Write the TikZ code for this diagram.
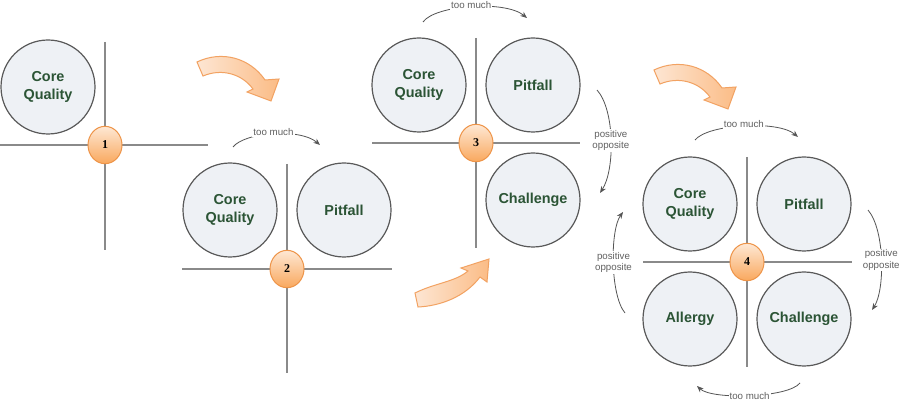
\documentclass[tikz,border=0pt]{standalone}
\usepackage{fontspec}
\setmainfont{Liberation Sans}
\newfontfamily\numfont{Liberation Serif}
\usetikzlibrary{arrows.meta,shapes.geometric}
\definecolor{qgreen}{HTML}{2B5435}
\definecolor{circfill}{HTML}{EEF1F5}
\definecolor{circedge}{HTML}{5A5A5A}
\definecolor{axisgray}{HTML}{8A8A8A}
\definecolor{relgray}{HTML}{555555}
\definecolor{labelgray}{HTML}{606060}
\definecolor{badgeedge}{HTML}{EE9448}
\definecolor{badgetop}{HTML}{FEE8D4}
\definecolor{badgebot}{HTML}{F9A85E}
\definecolor{arrowedge}{HTML}{F2A262}
\definecolor{arrowlight}{HTML}{FDE6D3}
\definecolor{arrowdark}{HTML}{FBBC86}
\begin{document}
\begin{tikzpicture}[x=0.75pt,y=-0.75pt,
  quad/.style={circle,draw=circedge,line width=0.9pt,fill=circfill,minimum size=70.5pt,inner sep=0pt,align=center,font=\fontsize{10.8}{13.5}\selectfont\bfseries,text=qgreen},
  badge/.style={ellipse,draw=badgeedge,line width=0.75pt,top color=badgetop,bottom color=badgebot,minimum width=25.5pt,minimum height=28pt,inner sep=0pt,font=\numfont\fontsize{9}{9}\selectfont\bfseries},
  axis/.style={draw=axisgray,line width=1.5pt},
  relarrow/.style={draw=relgray,line width=0.6pt,-{Stealth[length=5pt,width=4pt]}},
  rellabel/.style={fill=white,inner sep=0.8pt,text=labelgray,font=\fontsize{7.3}{8.8}\selectfont,align=center},
  bigarrow/.style={draw=arrowedge,line width=0.75pt,left color=arrowlight,right color=arrowdark}]
\useasboundingbox (0,0) rectangle (900,420);
\fill[white] (0,0) rectangle (900,420);

% ---------- axes coordinates ----------
\coordinate (v1t) at (105,42);  \coordinate (v1b) at (105,250);
\coordinate (h1l) at (0,145);   \coordinate (h1r) at (208,145);
\coordinate (v2t) at (287,164); \coordinate (v2b) at (287,373);
\coordinate (h2l) at (182,269); \coordinate (h2r) at (392,269);
\coordinate (v3t) at (476,38);  \coordinate (v3b) at (476,248);
\coordinate (h3l) at (372,143); \coordinate (h3r) at (580,143);
\coordinate (v4t) at (747,157); \coordinate (v4b) at (747,367);
\coordinate (h4l) at (643,262); \coordinate (h4r) at (852,262);

\draw[axis] (v1t) -- (v1b); \draw[axis] (h1l) -- (h1r);
\draw[axis] (v2t) -- (v2b); \draw[axis] (h2l) -- (h2r);
\draw[axis] (v3t) -- (v3b); \draw[axis] (h3l) -- (h3r);
\draw[axis] (v4t) -- (v4b); \draw[axis] (h4l) -- (h4r);

% ---------- quadrant circles ----------
\node[quad] (cq1) at (48,87) {Core\\Quality};

\node[quad] (cq2) at (230,210) {Core\\Quality};
\node[quad] (pf2) at (344,210) {Pitfall};

\node[quad] (cq3) at (419,85) {Core\\Quality};
\node[quad] (pf3) at (533,85) {Pitfall};
\node[quad] (ch3) at (533,200) {Challenge};

\node[quad] (cq4) at (690,204) {Core\\Quality};
\node[quad] (pf4) at (804,204) {Pitfall};
\node[quad] (al4) at (690,319) {Allergy};
\node[quad] (ch4) at (804,319) {Challenge};

% ---------- badges ----------
\node[badge] (b1) at (105,145) {1};
\node[badge] (b2) at (287,269) {2};
\node[badge] (b3) at (476,143) {3};
\node[badge] (b4) at (747,262) {4};

% ---------- relation arrows ----------
\coordinate (t2a) at (233,147); \coordinate (t2b) at (320,145);
\draw[relarrow] (t2a) .. controls (245,132) and (300,128) .. (t2b)
  node[pos=0.5,rellabel,yshift=1.5pt] {too much};

\coordinate (t3a) at (423,22); \coordinate (t3b) at (527,18);
\draw[relarrow] (t3a) .. controls (435,5) and (505,0) .. (t3b)
  node[pos=0.5,rellabel,yshift=1.5pt] {too much};

\coordinate (p3a) at (597,90); \coordinate (p3b) at (600,193);
\draw[relarrow] (p3a) .. controls (615,110) and (615,170) .. (p3b)
  node[pos=0.5,rellabel] {positive\\opposite};

\coordinate (t4a) at (695,140); \coordinate (t4b) at (798,137);
\draw[relarrow] (t4a) .. controls (708,124) and (778,120) .. (t4b)
  node[pos=0.5,rellabel,yshift=1.5pt] {too much};

\coordinate (u4a) at (800,383); \coordinate (u4b) at (697,386);
\draw[relarrow] (u4a) .. controls (788,398) and (712,400) .. (u4b)
  node[pos=0.5,rellabel,yshift=-0.5pt] {too much};

\coordinate (r4a) at (868,210); \coordinate (r4b) at (872,310);
\draw[relarrow] (r4a) .. controls (885,230) and (885,290) .. (r4b)
  node[pos=0.5,rellabel] {positive\\opposite};

\coordinate (l4a) at (625,313); \coordinate (l4b) at (623,212);
\draw[relarrow] (l4a) .. controls (610,295) and (610,230) .. (l4b)
  node[pos=0.5,rellabel] {positive\\opposite};

% ---------- big orange arrows ----------
\path[bigarrow] (197,62) .. controls (222,50) and (250,58) .. (265,80)
  -- (279,79) -- (271,101) -- (247,92) -- (253,89)
  .. controls (242,74) and (222,68) .. (203,76) -- cycle;

\path[bigarrow] (415,293) .. controls (435,283) and (455,282) .. (468,271)
  -- (461,268) -- (489,259) -- (487,282) -- (480,277)
  .. controls (465,297) and (440,306) .. (418,307) -- cycle;

\path[bigarrow] (654,70) .. controls (679,58) and (707,66) .. (722,88)
  -- (736,87) -- (728,109) -- (704,100) -- (710,97)
  .. controls (699,82) and (679,76) .. (660,84) -- cycle;
\end{tikzpicture}
\end{document}
